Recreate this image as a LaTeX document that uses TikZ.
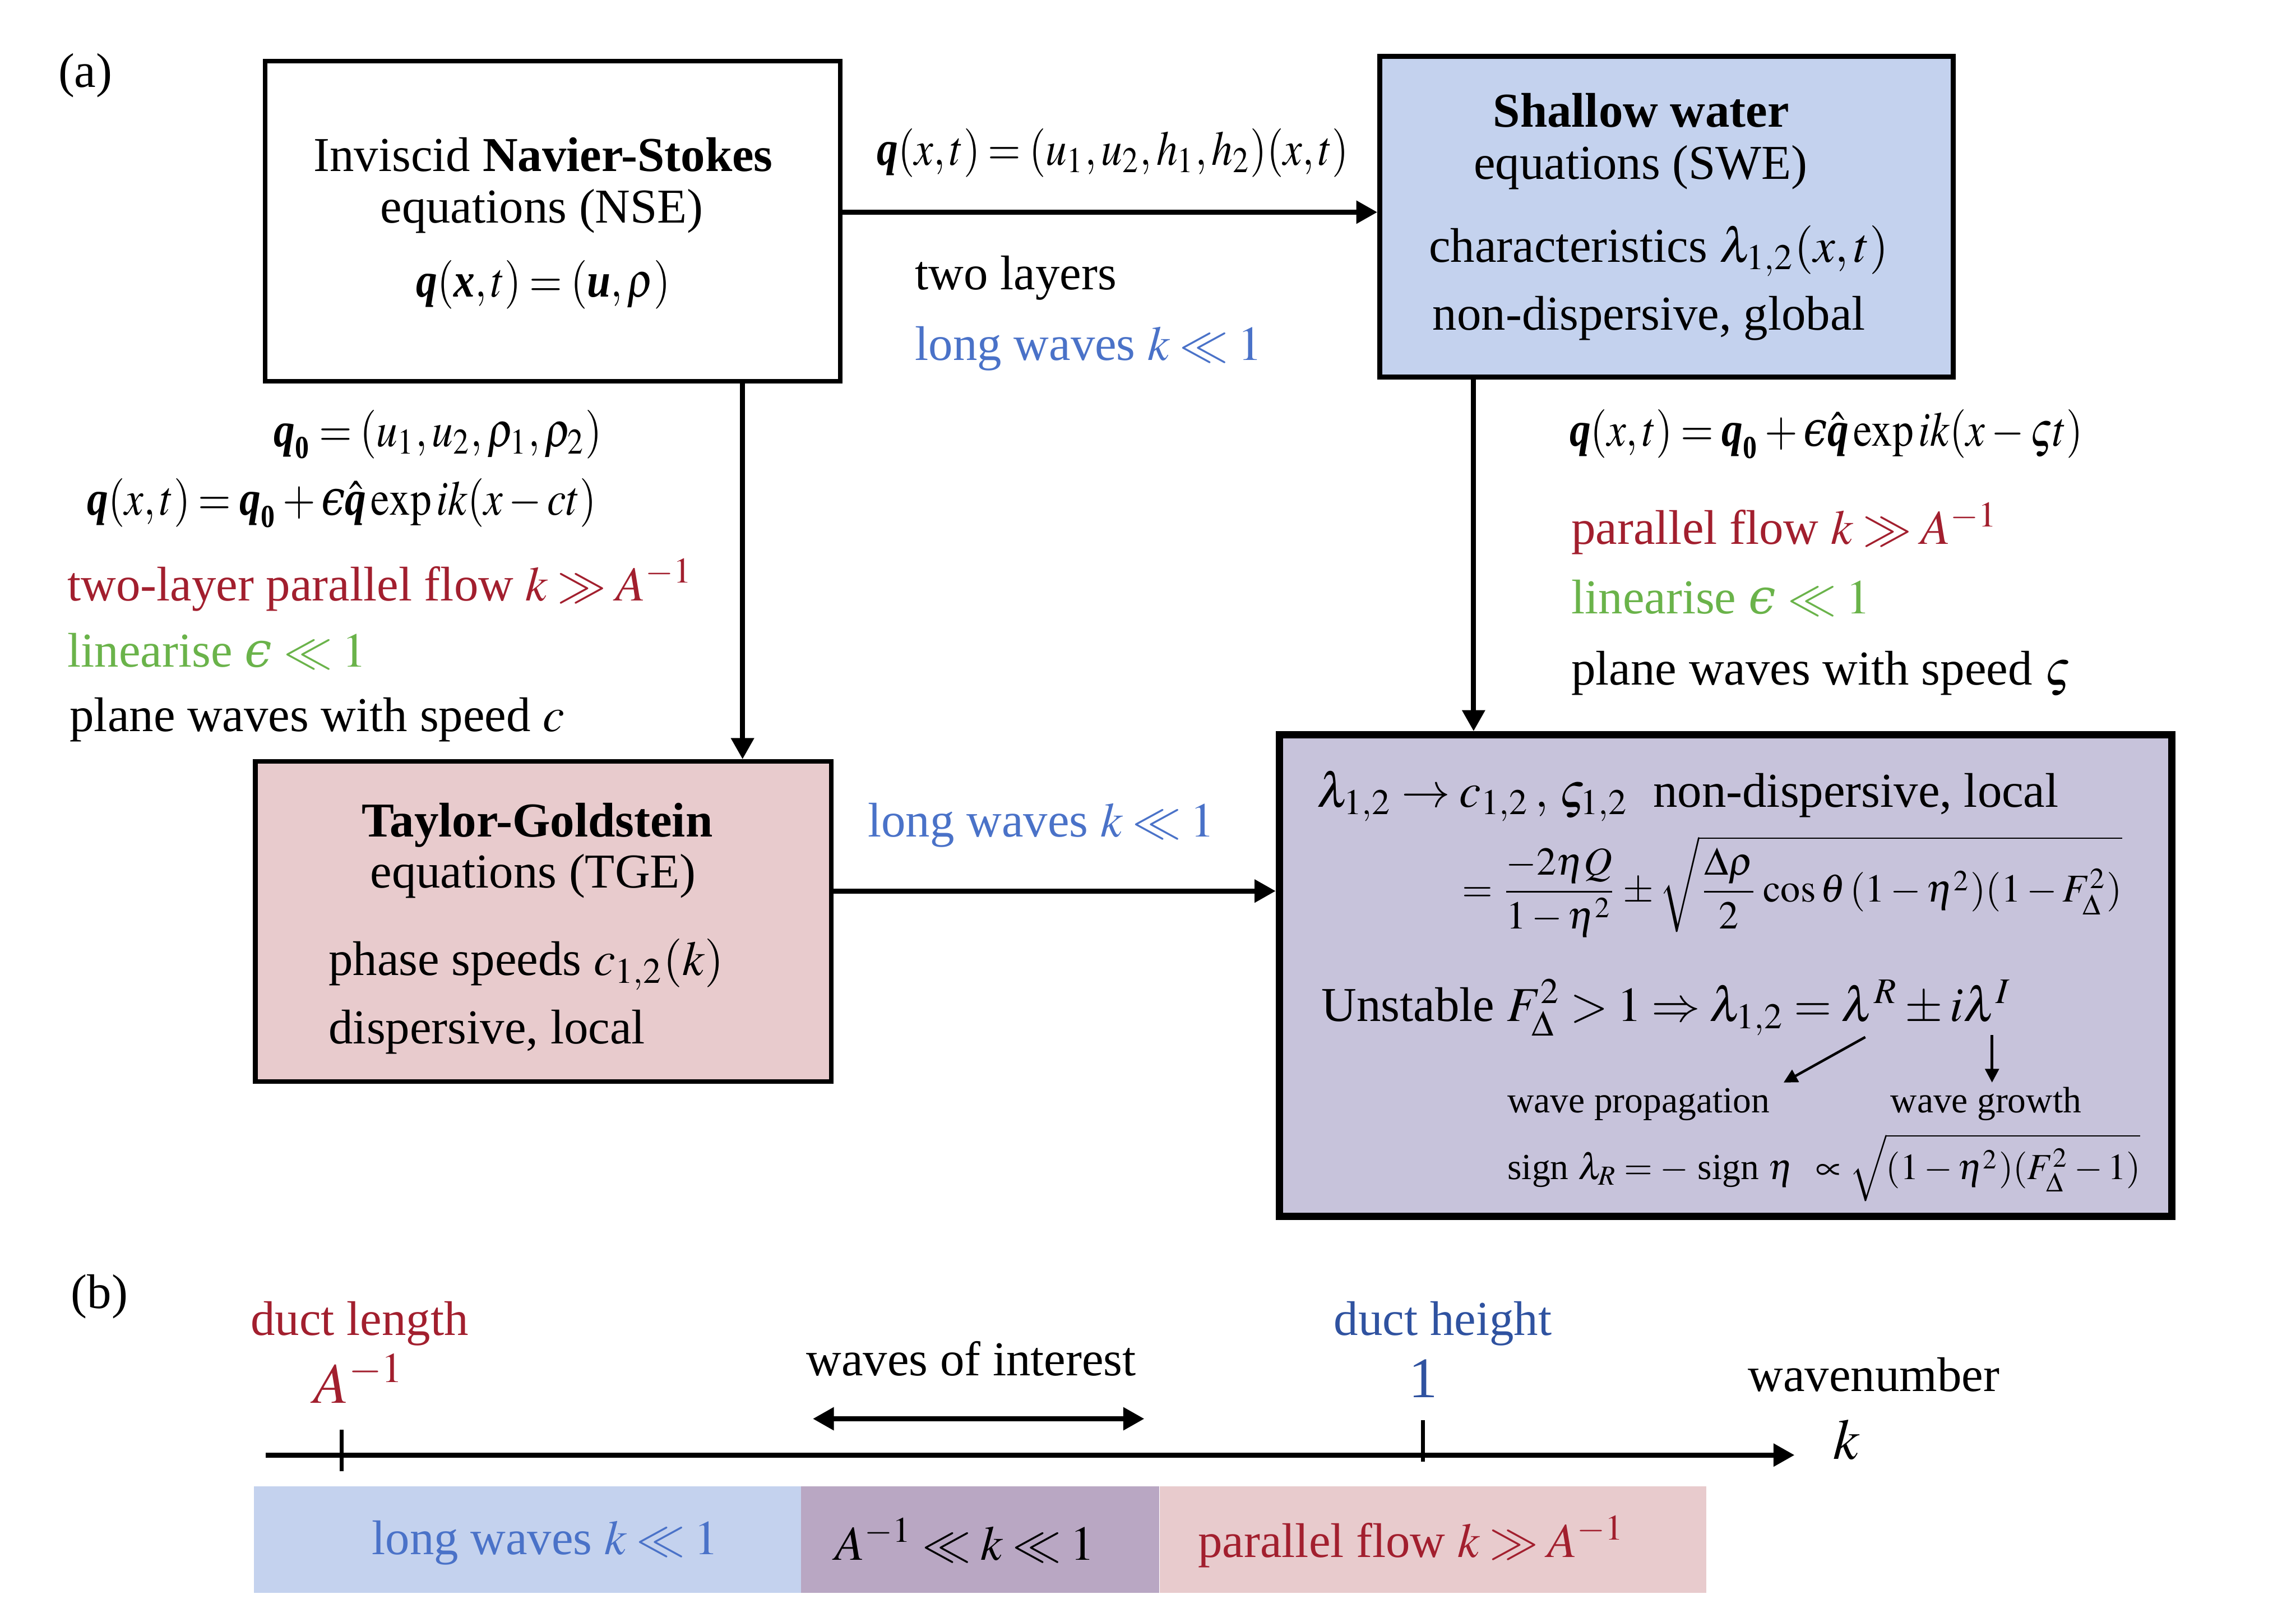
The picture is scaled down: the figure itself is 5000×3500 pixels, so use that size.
\documentclass[tikz,border=0pt]{standalone}
\usepackage{amsmath}
\usepackage{graphicx}
\usepackage{mathptmx}
\usepackage[no-math]{fontspec}
\setmainfont{Liberation Serif}
\newfontfamily\dvserif{DejaVu Serif}
\usetikzlibrary{arrows.meta}
\definecolor{myred}{HTML}{A21F2E}
\definecolor{mygreen}{HTML}{6AB34A}
\definecolor{myblue}{HTML}{4A72C8}
\definecolor{dblue}{HTML}{2F52A0}
\definecolor{swefill}{HTML}{C4D2EE}
\definecolor{tgefill}{HTML}{E8CBCD}
\definecolor{resfill}{HTML}{C7C3DB}
\definecolor{bandpurple}{HTML}{B9A7C3}
\newcommand{\bq}{\mbox{\bfseries\itshape q}}
\newcommand{\bx}{\mbox{\bfseries\itshape x}}
\newcommand{\bu}{\mbox{\bfseries\itshape u}}
\newcommand{\bqz}{\bq_{\mbox{\scriptsize\bfseries 0}}}
\newcommand{\eps}{\mbox{\dvserif\itshape\symbol{"03F5}}}
\newcommand{\nm}[1]{\scalebox{0.87}[1]{#1}}
\newcommand{\mainsz}{\fontsize{10.6}{12.7}\selectfont}
\newcommand{\smallsz}{\fontsize{8}{9.6}\selectfont}
\newcommand{\formsz}{\fontsize{8.6}{10.3}\selectfont}
\newcommand{\bigsz}{\fontsize{12.5}{15}\selectfont}
\thinmuskip=2mu
\medmuskip=2.5mu plus 1mu minus 1mu
\thickmuskip=3.5mu plus 2mu
\tikzset{
  box/.style={draw, line width=1pt, rectangle, inner sep=0pt},
  lbl/.style={inner sep=0pt, anchor=base west, font=\mainsz},
  lblc/.style={inner sep=0pt, anchor=base, font=\mainsz},
  bigarrow/.style={line width=1.1pt, -{Triangle[length=4.6pt,width=4.8pt]}},
  dblarrow/.style={line width=1.1pt, {Triangle[length=4.6pt,width=4.8pt]}-{Triangle[length=4.6pt,width=4.8pt]}},
  smallarrow/.style={line width=0.55pt, -{Triangle[length=3pt,width=3pt]}},
  tick/.style={line width=0.9pt},
  band/.style={rectangle, inner sep=0pt, minimum height=23.2pt},
}
\begin{document}
\begin{tikzpicture}[x=0.1pt,y=-0.1pt]
\useasboundingbox (0,0) rectangle (5000,3500);

% ---------- boxes ----------
\node[box, minimum width=125.3pt, minimum height=69.7pt] (nse) at (1203.5,481.5) {};
\node[box, fill=swefill, line width=1.1pt, minimum width=124.9pt, minimum height=69.8pt] (swe) at (3629.5,472) {};
\node[box, fill=tgefill, minimum width=125.4pt, minimum height=69.7pt] (tge) at (1183,2006.5) {};
\node[box, fill=resfill, line width=1.6pt, minimum width=194.4pt, minimum height=104.8pt] (res) at (3758,2124) {};

% ---------- panel labels ----------
\node[lbl] (pa) at (125,190) {(a)};
\node[lbl] (pb) at (153,2848) {(b)};

% ---------- NSE text ----------
\node[lblc] (nse1) at (1183,373) {Inviscid \textbf{Navier-Stokes}};
\node[lblc] (nse2) at (1180,485) {equations (NSE)};
\node[lblc] (nse3) at (1183,646) {\nm{$\bq(\bx,t)=(\bu,\rho)$}};

% ---------- SWE text ----------
\node[lblc] (swe1) at (3574,276) {\textbf{Shallow water}};
\node[lblc] (swe2) at (3573,390) {equations (SWE)};
\node[lbl] (swe3) at (3110,571) {characteristics $\lambda_{1,2}(x,t)$};
\node[lbl] (swe4) at (3118,718) {non-dispersive, global};

% ---------- TGE text ----------
\node[lblc] (tge1) at (1170,1822) {\textbf{Taylor-Goldstein}};
\node[lblc] (tge2) at (1161,1933) {equations (TGE)};
\node[lbl] (tge3) at (714,2124) {phase speeds $c_{1,2}(k)$};
\node[lbl] (tge4) at (714,2272) {dispersive, local};

% ---------- result box text ----------
\node[lbl] (r1) at (2866,1757) {$\lambda_{1,2}\to c_{1,2}\,,\,\varsigma_{1,2}$\ \ non-dispersive, local};
\node[inner sep=0pt, anchor=west, font=\formsz] (r2) at (3182,1930)
  {$\displaystyle =\frac{-2\eta Q}{1-\eta^2}\pm\sqrt{\frac{\Delta\rho}{2}\cos\theta\,(1-\eta^2)(1-F_\Delta^2)}$};
\node[lbl] (r3) at (2876,2223) {Unstable $F_\Delta^2>1\Rightarrow\lambda_{1,2}=\lambda^R\pm i\lambda^I$};
\node[lbl, font=\smallsz] (r4) at (3281,2422) {wave propagation};
\node[lbl, font=\smallsz] (r5) at (4115,2422) {wave growth};
\node[lbl, font=\smallsz] (r6) at (3281,2568) {sign $\lambda_R=-$ sign $\eta$};
\node[lbl, font=\smallsz] (r7) at (3953,2568) {$\propto\sqrt{(1-\eta^2)(F_\Delta^2-1)}$};
\coordinate (da1) at (4062,2258);
\coordinate (da2) at (3884,2357);
\coordinate (va1) at (4338,2254);
\coordinate (va2) at (4338,2357);
\draw[smallarrow] (da1) -- (da2);
\draw[smallarrow] (va1) -- (va2);

% ---------- connector labels ----------
\node[lbl] (t1) at (1908,359) {\nm{$\bq(x,t)=(u_1,u_2,h_1,h_2)(x,t)$}};
\node[lbl] (t2) at (1991,631) {two layers};
\node[lbl, text=myblue] (t3) at (1991,784) {long waves $k\ll 1$};

\node[lbl] (l1) at (594,972) {\nm{$\bqz=(u_1,u_2,\rho_1,\rho_2)$}};
\node[lbl] (l2) at (188,1121) {\nm{$\bq(x,t)=\bqz+\eps\hat{\bq}\exp ik(x-ct)$}};
\node[lbl, text=myred] (l3) at (145,1308) {two-layer parallel flow $k\gg A^{-1}$};
\node[lbl, text=mygreen] (l4) at (145,1452) {linearise \eps\ $\ll 1$};
\node[lbl] (l5) at (150,1592) {plane waves with speed $c$};

\node[lbl] (q1) at (3416,971) {\nm{$\bq(x,t)=\bqz+\eps\hat{\bq}\exp ik(x-\varsigma t)$}};
\node[lbl, text=myred] (q2) at (3420,1185) {parallel flow $k\gg A^{-1}$};
\node[lbl, text=mygreen] (q3) at (3420,1336) {linearise \eps\ $\ll 1$};
\node[lbl] (q4) at (3420,1491) {plane waves with speed $\varsigma$};

\node[lbl, text=myblue] (m1) at (1888,1822) {long waves $k\ll 1$};

% ---------- main connectors ----------
\draw[bigarrow] (nse.east |- 0,462) -- (swe.west |- 0,462);
\draw[bigarrow] (nse.south -| 1617,0) -- (tge.north -| 1617,0);
\draw[bigarrow] (swe.south -| 3209,0) -- (res.north -| 3209,0);
\draw[bigarrow] (tge.east |- 0,1940) -- (res.west |- 0,1940);

% ---------- panel (b) ----------
\node[band, fill=swefill, minimum width=119.1pt] (b1) at (1148.5,3352) {};
\node[band, fill=bandpurple, minimum width=78.1pt] (b2) at (2134.5,3352) {};
\node[band, fill=tgefill, minimum width=119.1pt] (b3) at (3120.5,3352) {};
\node[lbl, text=myblue] (bt1) at (808,3384) {long waves $k\ll 1$};
\node[lbl] (bt2) at (1816,3396) {$A^{-1}\ll k\ll 1$};
\node[lbl, text=myred] (bt3) at (2607,3391) {parallel flow $k\gg A^{-1}$};

\coordinate (axL) at (579,3168);
\coordinate (axR) at (3908,3168);
\draw[bigarrow] (axL) -- (axR);
\coordinate (tk1a) at (744,3113);
\coordinate (tk1b) at (744,3203);
\coordinate (tk2a) at (3099,3092);
\coordinate (tk2b) at (3099,3182);
\draw[tick] (tk1a) -- (tk1b);
\draw[tick] (tk2a) -- (tk2b);

\node[lblc, text=myred] (dl) at (783,2907) {duct length};
\node[lbl, text=myred, font=\bigsz] (dA) at (681,3055) {$A^{-1}$};
\node[lblc, text=dblue] (dh) at (3142,2907) {duct height};
\node[lblc, text=dblue, font=\bigsz] (d1) at (3099,3043) {1};
\node[lblc] (wi) at (2115,2995) {waves of interest};
\coordinate (wiL) at (1770,3089);
\coordinate (wiR) at (2492,3089);
\draw[dblarrow] (wiL) -- (wiR);
\node[lbl] (wn) at (3805,3029) {wavenumber};
\node[lbl, font=\bigsz] (kk) at (3990,3177) {$k$};
\end{tikzpicture}
\end{document}
